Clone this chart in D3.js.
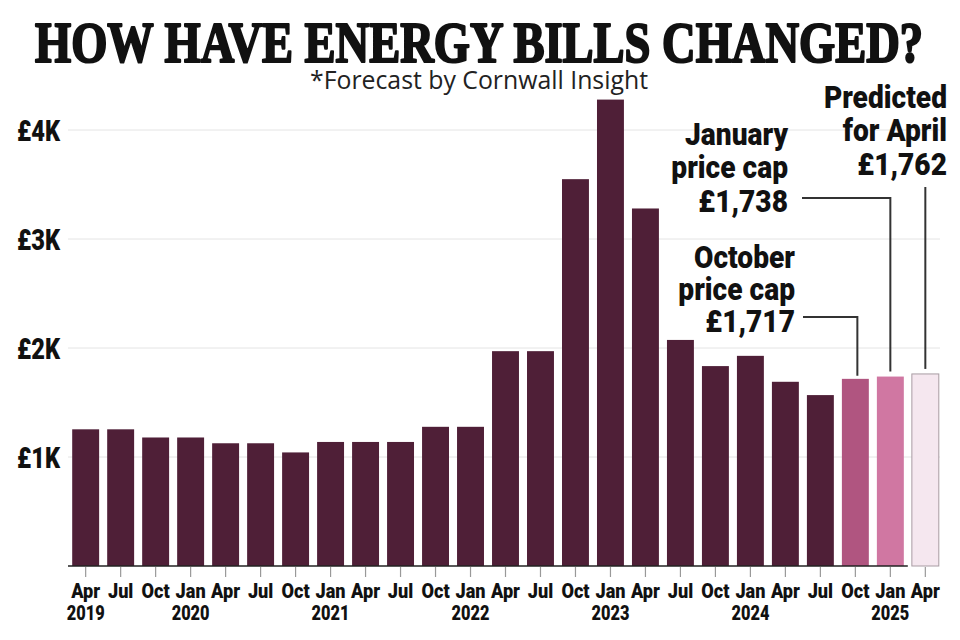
<!DOCTYPE html>
<html>
<head>
<meta charset="utf-8">
<script src="https://cdn.jsdelivr.net/npm/d3@7"></script>
<style>
  html, body { margin: 0; padding: 0; background: #fff; }
  svg { display: block; }
  .cond { font-family: Roboto, "Noto Sans", sans-serif; font-weight: 900; }
</style>
</head>
<body>
<svg id="chart" width="960" height="640"></svg>
<script>
// ---------- DATA ----------
const periods = ["Apr 2019","Jul 2019","Oct 2019","Jan 2020","Apr 2020","Jul 2020","Oct 2020","Jan 2021",
  "Apr 2021","Jul 2021","Oct 2021","Jan 2022","Apr 2022","Jul 2022","Oct 2022","Jan 2023","Apr 2023",
  "Jul 2023","Oct 2023","Jan 2024","Apr 2024","Jul 2024","Oct 2024","Jan 2025","Apr 2025"];
const bills = [1254,1254,1179,1179,1126,1126,1042,1138,1138,1138,1277,1277,1971,1971,3549,4279,3280,
  2074,1834,1928,1690,1568,1717,1738,1762];
const barKind = ["past","past","past","past","past","past","past","past","past","past","past","past","past",
  "past","past","past","past","past","past","past","past","past","oct","jan","pred"];
const monthLabels = ["Apr","Jul","Oct","Jan","Apr","Jul","Oct","Jan","Apr","Jul","Oct","Jan","Apr","Jul",
  "Oct","Jan","Apr","Jul","Oct","Jan","Apr","Jul","Oct","Jan","Apr"];
const yearLabels = ["2019","","","2020","","","","2021","","","","2022","","","","2023","","","","2024",
  "","","","2025",""];
const yTicks = [1000,2000,3000,4000];
const yTickLabels = ["£1K","£2K","£3K","£4K"];
const title = "HOW HAVE ENERGY BILLS CHANGED?";
const subtitle = "*Forecast by Cornwall Insight";
const noteOctober = ["October","price cap","£1,717"];
const noteJanuary = ["January","price cap","£1,738"];
const notePredicted = ["Predicted","for April","£1,762"];

// ---------- STYLE ----------
const colours = { past: "#4f1f37", oct: "#b05580", jan: "#d077a2", pred: "#f5e7ef" };

const svg = d3.select("#chart");

// measure helper for horizontal condensing
function measure(str, size) {
  const t = svg.append("text").attr("class", "cond").attr("font-size", size).text(str);
  const w = t.node().getComputedTextLength();
  t.remove();
  return w;
}
const sxMonth = 29 / measure("Apr", 21);
const sxYear = 38 / measure("2019", 21);
const sxY = 43 / measure("£4K", 30);
const sxNote = 103 / measure("January", 32);

const x = d3.scaleBand().domain(periods).range([68, 943]).paddingInner(0.23).paddingOuter(0.12);
const y = d3.scaleLinear().domain([0, 4000]).range([566, 130]);

// title & subtitle
svg.append("text")
  .attr("x", 479).attr("y", 62)
  .attr("text-anchor", "middle")
  .attr("font-family", "'Liberation Serif', serif")
  .attr("font-weight", "bold")
  .attr("font-size", 56)
  .attr("textLength", 888).attr("lengthAdjust", "spacingAndGlyphs")
  .attr("fill", "#111").attr("stroke", "#111").attr("stroke-width", 2.2)
  .attr("stroke-linejoin", "round")
  .text(title);

svg.append("text")
  .attr("x", 479).attr("y", 89)
  .attr("text-anchor", "middle")
  .attr("font-family", "'Open Sans', 'Noto Sans', sans-serif")
  .attr("font-size", 25)
  .attr("textLength", 338).attr("lengthAdjust", "spacingAndGlyphs")
  .attr("fill", "#222")
  .text(subtitle);

// gridlines
svg.append("g").selectAll("line").data(yTicks).join("line")
  .attr("x1", 68).attr("x2", 940)
  .attr("y1", d => y(d)).attr("y2", d => y(d))
  .attr("stroke", "#e4e4e4").attr("stroke-width", 1);

// y axis labels
const yAxis = d3.axisLeft(y).tickValues(yTicks).tickSize(0).tickPadding(0)
  .tickFormat((d, i) => yTickLabels[i]);
const gy = svg.append("g").attr("transform", "translate(60,0)").call(yAxis);
gy.select(".domain").remove();
gy.selectAll("text").attr("class", "cond").attr("font-size", 30).attr("fill", "#111")
  .attr("x", 0).attr("dy", "0.36em").attr("transform", `scale(${sxY},1)`);

// bars
svg.append("g").selectAll("rect").data(periods).join("rect")
  .attr("x", d => x(d))
  .attr("width", x.bandwidth())
  .attr("y", (d, i) => y(bills[i]))
  .attr("height", (d, i) => y(0) - y(bills[i]))
  .attr("fill", (d, i) => colours[barKind[i]])
  .attr("stroke", (d, i) => barKind[i] === "pred" ? "#a89ca3" : "none")
  .attr("stroke-width", 1);

// x axis
const xAxis = d3.axisBottom(x).tickSize(11).tickPadding(6)
  .tickFormat((d, i) => monthLabels[i]);
const gx = svg.append("g").attr("transform", "translate(0,566)").call(xAxis);
gx.select(".domain").attr("d", `M68,0H${x(periods[periods.length - 2]) + x.bandwidth() + 4}`)
  .attr("stroke", "#222").attr("stroke-width", 1.6);
gx.selectAll(".tick line").attr("stroke", "#999").attr("stroke-width", 1.2).attr("y1", 1);
gx.selectAll(".tick text").attr("class", "cond").attr("font-size", 21).attr("fill", "#111")
  .attr("transform", `scale(${sxMonth},1)`);

// year labels
svg.append("g").selectAll("g").data(periods).join("g")
  .attr("transform", d => `translate(${x(d) + x.bandwidth() / 2},620) scale(${sxYear},1)`)
  .append("text")
  .attr("class", "cond")
  .attr("text-anchor", "middle")
  .attr("font-size", 21)
  .attr("fill", "#111")
  .text((d, i) => yearLabels[i]);

// annotations
function note(lines, rightX, baseY, lh) {
  const t = svg.append("g").attr("transform", `translate(${rightX},0) scale(${sxNote},1)`)
    .append("text").attr("class", "cond")
    .attr("text-anchor", "end").attr("font-size", 32).attr("fill", "#111");
  lines.forEach((l, i) => t.append("tspan").attr("x", 0).attr("y", baseY + i * lh).text(l));
}
note(notePredicted, 947, 108, 33.5);
note(noteJanuary, 788, 145, 33.5);
note(noteOctober, 795, 268, 32);

const cx = i => x(periods[i]) + x.bandwidth() / 2;
const line = d3.line();
const conn = svg.append("g").attr("fill", "none").attr("stroke", "#333").attr("stroke-width", 2);
conn.append("path").attr("d", line([[803, 317], [cx(22) + 2, 317], [cx(22) + 2, y(bills[22]) - 3]]));
conn.append("path").attr("d", line([[802, 198], [cx(23), 198], [cx(23), y(bills[23]) - 5]]));
conn.append("path").attr("d", line([[cx(24), 187], [cx(24), y(bills[24]) - 5]]));
</script>
</body>
</html>
